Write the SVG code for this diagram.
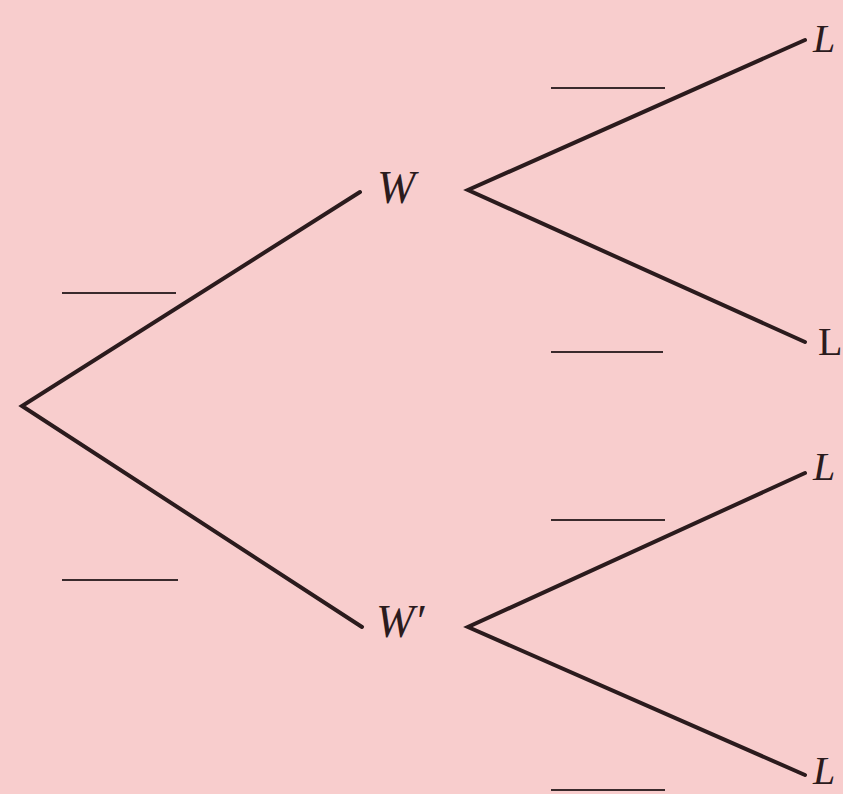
<svg xmlns="http://www.w3.org/2000/svg" width="843" height="794" viewBox="0 0 843 794">
<style>
.e{stroke:#2b1b1d;stroke-width:4;fill:none;stroke-linecap:round;stroke-linejoin:miter}
.b{stroke:#3a2a2c;stroke-width:2;fill:none}
text{font-family:"Liberation Serif","DejaVu Serif",serif;font-size:40px;fill:#2b1b1d}
.i{font-style:italic}
.w{font-size:46px}
</style>
<rect width="843" height="794" fill="#f8cdcd"/>
<g id="connectors">
<polyline class="e" points="360,192 22,406 362,627"/>
<polyline class="e" points="805,40 468,190 805,342"/>
<polyline class="e" points="805,473 468,627 805,775"/>
<line class="b" x1="62" y1="293" x2="176" y2="293"/>
<line class="b" x1="62" y1="580" x2="178" y2="580"/>
<line class="b" x1="551" y1="88" x2="665" y2="88"/>
<line class="b" x1="551" y1="352" x2="663" y2="352"/>
<line class="b" x1="551" y1="520" x2="665" y2="520"/>
<line class="b" x1="551" y1="790" x2="665" y2="790"/>
</g>
<g id="node-W"><text class="i w" x="377" y="203">W</text></g>
<g id="node-Wp"><text class="i w" x="376" y="637">W′</text></g>
<g id="node-L1"><text class="i" x="813" y="52">L</text></g>
<g id="node-L2"><text x="818" y="355">L</text></g>
<g id="node-L3"><text class="i" x="813" y="480">L</text></g>
<g id="node-L4"><text class="i" x="813" y="784">L</text></g>
</svg>
